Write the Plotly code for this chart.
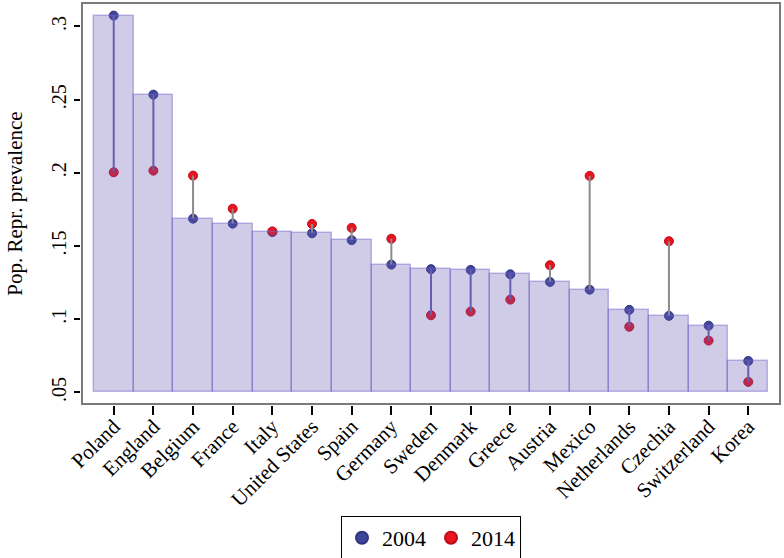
import plotly.graph_objects as go

countries = ["Poland", "England", "Belgium", "France", "Italy", "United States", "Spain",
             "Germany", "Sweden", "Denmark", "Greece", "Austria", "Mexico", "Netherlands",
             "Czechia", "Switzerland", "Korea"]
val_2004 = [0.3074, 0.2534, 0.1687, 0.1653, 0.1596, 0.1587, 0.1540, 0.1373, 0.1342, 0.1337,
            0.1307, 0.1255, 0.1202, 0.1064, 0.1023, 0.0956, 0.0715]
val_2014 = [0.2004, 0.2015, 0.1981, 0.1755, 0.1600, 0.1651, 0.1624, 0.1550, 0.1027, 0.1052,
            0.1134, 0.1369, 0.1979, 0.0949, 0.1533, 0.0854, 0.0572]
y_ticks = [0.05, 0.10, 0.15, 0.20, 0.25, 0.30]
y_tick_text = [".05", ".1", ".15", ".2", ".25", ".3"]
base_value = 0.05

FONT = "Liberation Serif, Times New Roman, serif"
xs = list(range(len(countries)))

fig = go.Figure()

# markers
fig.add_trace(go.Scatter(x=xs, y=val_2004, mode="markers", name="2004",
                         marker=dict(color="#3d4599", size=9, line=dict(color="#2e3480", width=1)),
                         zorder=0))
fig.add_trace(go.Scatter(x=xs, y=val_2014, mode="markers", name="2014",
                         marker=dict(color="#e8141e", size=9, line=dict(color="#c00a1a", width=1)),
                         zorder=0))

# connecting spikes
dec_x, dec_y, inc_x, inc_y = [], [], [], []
for i, (a, b) in enumerate(zip(val_2004, val_2014)):
    if b < a:
        dec_x += [i, i, None]; dec_y += [a, b, None]
    else:
        inc_x += [i, i, None]; inc_y += [a, b, None]
fig.add_trace(go.Scatter(x=dec_x, y=dec_y, mode="lines", showlegend=False, hoverinfo="skip",
                         line=dict(color="#6563b0", width=2), zorder=0))
fig.add_trace(go.Scatter(x=inc_x, y=inc_y, mode="lines", showlegend=False, hoverinfo="skip",
                         line=dict(color="#8c8c8c", width=2), zorder=0))

# translucent bars on top
fig.add_trace(go.Bar(x=xs, y=[v - base_value for v in val_2004], base=base_value, width=1,
                     showlegend=False, hoverinfo="skip",
                     marker=dict(color="rgba(98,85,178,0.3)",
                                 line=dict(color="rgba(110,100,200,0.45)", width=1.5)),
                     zorder=1))

fig.add_shape(type="rect", xref="paper", yref="paper", x0=0, x1=1, y0=0, y1=1,
              line=dict(color="#7a7a7a", width=2), layer="below")

fig.update_layout(
    width=784, height=558,
    margin=dict(l=82, r=4, t=3, b=154, autoexpand=False),
    paper_bgcolor="white", plot_bgcolor="white",
    font=dict(family=FONT, color="black", size=20),
    showlegend=True,
    legend=dict(orientation="h", x=0.5, xanchor="center", y=-0.279, yanchor="top",
                bordercolor="black", borderwidth=1, font=dict(size=22, family=FONT),
                itemsizing="constant", traceorder="normal"),
    bargap=0,
)
fig.update_xaxes(range=[-0.8, 16.8], tickmode="array", tickvals=xs, ticktext=countries,
                 tickangle=-45, ticks="outside", ticklen=9, tickwidth=1.5, tickcolor="black",
                 showline=True, linecolor="black", linewidth=2, showgrid=False, zeroline=False,
                 tickfont=dict(size=21, family=FONT), automargin=False, ticklabelstandoff=-9)
fig.update_yaxes(range=[0.0421, 0.316], tickmode="array", tickvals=y_ticks, ticktext=y_tick_text,
                 tickangle=-90, ticks="outside", ticklen=6, tickwidth=1.5, tickcolor="black",
                 showline=True, linecolor="black", linewidth=2, showgrid=False, zeroline=False,
                 tickfont=dict(size=20, family=FONT), automargin=False,
                 title=dict(text="Pop. Repr. prevalence", font=dict(size=21, family=FONT), standoff=20))

fig.write_html("out.html", config={"displayModeBar": False},
               post_script="document.body.style.margin='0';")
